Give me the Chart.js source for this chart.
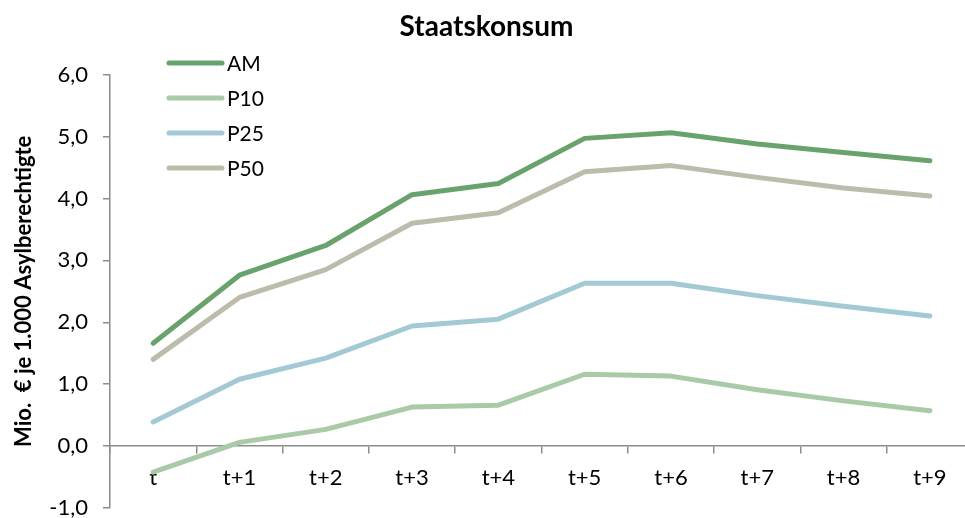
<!DOCTYPE html>
<html>
<head>
<meta charset="utf-8">
<script src="https://cdn.jsdelivr.net/npm/chart.js@4"></script>
<style>
  html, body { margin: 0; padding: 0; background: #fff; overflow: hidden; }
  #wrap { width: 980px; height: 518px; }
</style>
</head>
<body>
<div id="wrap"><canvas id="konsumChart"></canvas></div>
<script>
var labels = ['t', 't+1', 't+2', 't+3', 't+4', 't+5', 't+6', 't+7', 't+8', 't+9'];
var amData  = [1.66, 2.76, 3.24, 4.06, 4.24, 4.97, 5.06, 4.88, 4.74, 4.61];
var p10Data = [-0.42, 0.06, 0.27, 0.63, 0.66, 1.16, 1.13, 0.91, 0.73, 0.57];
var p25Data = [0.39, 1.08, 1.42, 1.94, 2.05, 2.63, 2.63, 2.43, 2.26, 2.10];
var p50Data = [1.40, 2.40, 2.85, 3.60, 3.77, 4.43, 4.53, 4.34, 4.17, 4.04];
var yTicks = [-1, 0, 1, 2, 3, 4, 5, 6];

var fontFamily = 'Lato, "Open Sans", sans-serif';

function lineSet(label, data, color) {
    return {
        label: label,
        data: data,
        borderColor: color,
        backgroundColor: color,
        borderWidth: 5,
        borderCapStyle: 'round',
        borderJoinStyle: 'round',
        pointRadius: 0,
        tension: 0,
        fill: false
    };
}

// legend drawn inside the plot, top left
var innerLegend = {
    id: 'innerLegend',
    afterDatasetsDraw: function (chart) {
        var ctx = chart.ctx;
        ctx.save();
        ctx.font = '21px ' + fontFamily;
        ctx.textBaseline = 'middle';
        ctx.lineCap = 'round';
        chart.data.datasets.forEach(function (ds, i) {
            var y = 63 + i * 35;
            ctx.strokeStyle = ds.borderColor;
            ctx.lineWidth = 5;
            ctx.beginPath();
            ctx.moveTo(169, y);
            ctx.lineTo(222, y);
            ctx.stroke();
            ctx.fillStyle = '#000';
            ctx.fillText(ds.label, 227, y + 1);
        });
        ctx.restore();
    }
};

var ctx = document.getElementById('konsumChart').getContext('2d');
new Chart(ctx, {
    type: 'line',
    data: {
        labels: labels,
        datasets: [
            lineSet('AM', amData, '#6aa26e'),
            lineSet('P10', p10Data, '#a9caa6'),
            lineSet('P25', p25Data, '#a3cad4'),
            lineSet('P50', p50Data, '#bdbbab')
        ]
    },
    options: {
        responsive: true,
        maintainAspectRatio: false,
        animation: false,
        layout: { padding: { left: 0, top: 0, right: 7, bottom: 10 } },
        plugins: {
            legend: { display: false },
            tooltip: { enabled: false },
            title: {
                display: true,
                text: 'Staatskonsum',
                color: '#000',
                font: { family: fontFamily, size: 28, weight: 'bold', lineHeight: 1.2 },
                padding: { top: 10, bottom: 31 }
            }
        },
        scales: {
            x: {
                type: 'category',
                position: { y: 0 },
                offset: true,
                afterFit: function (scale) { scale.height = 0; },
                border: { color: '#8c8c8c', width: 1.5 },
                grid: {
                    offset: true,
                    drawOnChartArea: false,
                    drawTicks: true,
                    tickLength: 7,
                    color: '#8c8c8c',
                    lineWidth: 1.5
                },
                ticks: {
                    color: '#000',
                    padding: 12,
                    maxRotation: 0,
                    font: { family: fontFamily, size: 22 }
                }
            },
            y: {
                min: -1,
                max: 6,
                afterFit: function (scale) {
                    scale.width = 110;
                    scale.paddingTop = 0;
                    scale.paddingBottom = 0;
                },
                afterBuildTicks: function (scale) {
                    scale.ticks = yTicks.map(function (v) { return { value: v }; });
                },
                border: { color: '#8c8c8c', width: 1.5 },
                grid: {
                    drawOnChartArea: false,
                    drawTicks: true,
                    tickLength: 7,
                    color: '#8c8c8c',
                    lineWidth: 1.5
                },
                ticks: {
                    color: '#000',
                    padding: 15,
                    font: { family: fontFamily, size: 22 },
                    callback: function (v) { return v.toFixed(1).replace('.', ','); }
                },
                title: {
                    display: true,
                    text: 'Mio.  € je 1.000 Asylberechtigte',
                    color: '#000',
                    font: { family: fontFamily, size: 22, weight: 'bold' },
                    padding: { top: 11, bottom: 0 }
                }
            }
        }
    },
    plugins: [innerLegend]
});
</script>
</body>
</html>
